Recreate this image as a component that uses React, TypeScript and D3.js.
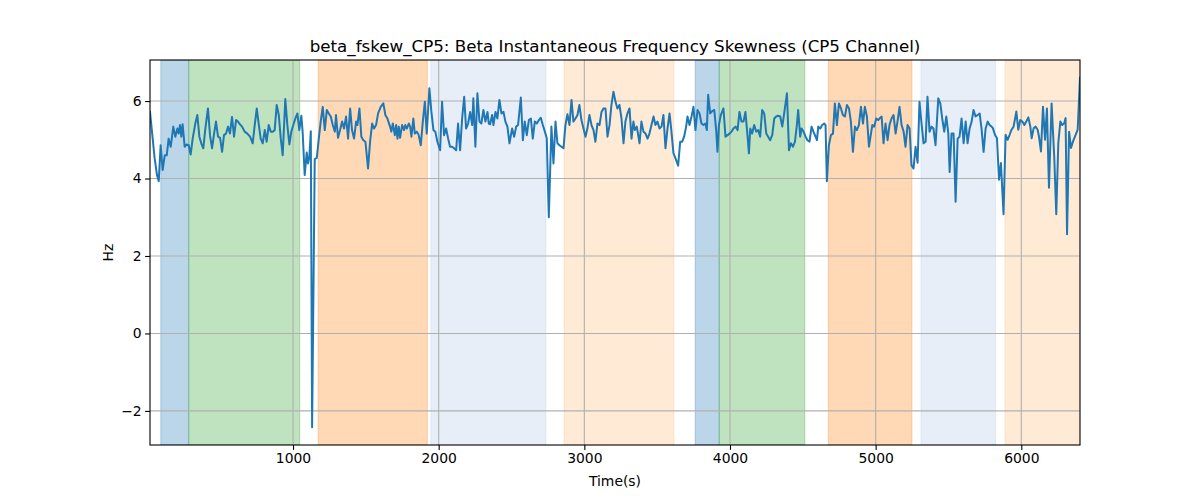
import { useEffect, useRef } from "react";
import * as d3 from "d3";

const WIDTH = 1200;
const HEIGHT = 500;

const chartTitle =
	"beta_fskew_CP5: Beta Instantaneous Frequency Skewness (CP5 Channel)";
const xLabel = "Time(s)";
const yLabel = "Hz";

const xTicks = [1000, 2000, 3000, 4000, 5000, 6000];
const yTicks = [-2, 0, 2, 4, 6];
const yLimits = [-2.88, 7.06];

// shaded periods (seconds) and which stage each one belongs to
const spanStart = [92, 284, 1172, 1946, 2861, 3761, 3926, 4675, 5311, 5888];
const spanEnd = [284, 1046, 1922, 2736, 3615, 3926, 4514, 5249, 5824, 6403];
const spanStage = ["a", "b", "c", "d", "e", "a", "b", "c", "d", "e"];

const stageFill: Record<string, [string, number]> = {
	a: ["#1f77b4", 0.3],
	b: ["#2ca02c", 0.3],
	c: ["#ff7f0e", 0.3],
	d: ["#aec7e8", 0.3],
	e: ["#ffbb78", 0.3],
};

// [time (s), skewness (Hz)]
const fskew: [number, number][] = [
	[18, 5.72], [50, 4.52], [66, 4.09], [78, 3.93], [91, 4.86], [105, 4.22], [119, 4.6], [133, 4.6],
	[146, 5.03], [160, 4.82], [178, 5.34], [192, 5.08], [206, 5.29], [215, 5.16], [224, 5.38], [233, 5.08],
	[242, 5.4], [256, 4.82], [270, 4.88], [284, 4.86], [297, 4.62], [311, 5.03], [329, 5.42], [343, 5.64],
	[357, 5.08], [370, 4.91], [384, 4.78], [398, 5.29], [416, 5.81], [430, 5.12], [444, 4.78], [458, 5.16],
	[471, 5.47], [485, 5.08], [499, 5.05], [513, 4.69], [526, 5.12], [540, 5.16], [554, 5.34], [567, 5.16],
	[581, 5.59], [595, 5.08], [609, 5.51], [622, 5.47], [636, 5.4], [650, 5.34], [668, 5.21], [686, 5.16],
	[705, 5.08], [723, 4.91], [737, 5.38], [751, 5.81], [764, 5.42], [778, 5.03], [792, 4.91], [806, 5.25],
	[819, 4.95], [833, 5.38], [847, 5.21], [861, 5.21], [874, 5.25], [888, 5.9], [902, 5.64], [916, 5.03],
	[929, 4.6], [947, 6.05], [961, 5.38], [975, 4.88], [988, 5.21], [1002, 5.38], [1016, 5.55], [1030, 5.68],
	[1043, 5.25], [1057, 5.62], [1066, 5.2], [1080, 4.09], [1094, 4.67], [1103, 4.39], [1112, 4.56], [1122, 5.22],
	[1131, -2.42], [1149, 4.5], [1163, 4.53], [1177, 5.03], [1190, 5.47], [1204, 5.85], [1218, 5.25], [1232, 5.77],
	[1245, 5.68], [1259, 5.6], [1273, 5.38], [1287, 5.21], [1295, 5.64], [1309, 5.05], [1323, 5.25], [1337, 5.47],
	[1350, 5.29], [1364, 5.6], [1378, 5.03], [1392, 5.81], [1405, 5.25], [1419, 5.03], [1433, 5.47], [1442, 5.38],
	[1456, 5.81], [1469, 5.08], [1483, 4.99], [1497, 4.95], [1515, 4.26], [1529, 4.95], [1543, 5.42], [1556, 5.29],
	[1570, 5.38], [1584, 5.68], [1602, 5.85], [1620, 5.94], [1634, 5.64], [1648, 5.55], [1666, 5.34], [1675, 5.21],
	[1685, 5.42], [1699, 5.12], [1708, 5.38], [1717, 5.03], [1726, 5.34], [1735, 5.05], [1749, 5.38], [1762, 5.25],
	[1771, 5.38], [1781, 5.29], [1795, 5.42], [1804, 5.34], [1813, 5.08], [1826, 5.55], [1836, 5.16], [1850, 5.21],
	[1863, 5.12], [1877, 4.86], [1891, 5.47], [1905, 5.98], [1918, 5.16], [1936, 6.33], [1950, 5.72], [1964, 5.25],
	[1977, 5.21], [1991, 4.95], [2010, 4.73], [2023, 5.98], [2037, 5.12], [2051, 5.29], [2065, 5.03], [2078, 4.82],
	[2092, 4.82], [2106, 4.78], [2120, 4.73], [2133, 5.42], [2147, 4.73], [2161, 5.55], [2175, 6.11], [2188, 5.29],
	[2202, 5.42], [2216, 5.72], [2230, 5.38], [2238, 6.07], [2252, 4.82], [2266, 6.2], [2280, 5.47], [2293, 5.42],
	[2307, 5.77], [2321, 5.47], [2335, 5.72], [2344, 5.42], [2353, 5.4], [2367, 5.64], [2376, 5.38], [2390, 5.72],
	[2403, 5.55], [2417, 6.03], [2431, 5.68], [2445, 5.72], [2458, 5.47], [2472, 5.34], [2486, 4.91], [2504, 5.29],
	[2518, 5.08], [2532, 5.34], [2545, 5.38], [2564, 6.09], [2578, 4.99], [2591, 5.47], [2605, 5.12], [2619, 5.51],
	[2633, 5.55], [2646, 5.03], [2660, 5.47], [2674, 5.42], [2688, 5.51], [2701, 5.57], [2715, 5.38], [2729, 5.21],
	[2742, 5.04], [2756, 3.0], [2774, 5.34], [2788, 4.39], [2802, 5.47], [2815, 4.91], [2829, 4.86], [2843, 4.82],
	[2857, 4.78], [2870, 5.38], [2884, 5.66], [2898, 5.38], [2912, 6.03], [2925, 5.47], [2939, 5.55], [2953, 5.64],
	[2966, 5.9], [2980, 5.51], [2994, 5.29], [3008, 5.08], [3021, 5.29], [3035, 5.64], [3049, 5.38], [3063, 5.25],
	[3076, 4.95], [3090, 5.42], [3104, 5.38], [3118, 5.72], [3131, 5.81], [3145, 5.81], [3159, 5.08], [3173, 5.38],
	[3186, 5.9], [3200, 6.24], [3214, 5.98], [3227, 5.81], [3241, 5.9], [3255, 5.55], [3269, 4.91], [3282, 5.47],
	[3296, 5.68], [3310, 5.81], [3324, 5.03], [3337, 5.47], [3347, 5.25], [3360, 5.34], [3379, 4.91], [3392, 5.47],
	[3406, 5.21], [3420, 5.16], [3434, 5.03], [3447, 5.16], [3461, 5.38], [3475, 5.6], [3488, 5.38], [3502, 5.47],
	[3516, 5.29], [3530, 5.34], [3543, 5.64], [3557, 4.78], [3571, 5.29], [3585, 5.68], [3598, 5.21], [3612, 4.65],
	[3626, 4.52], [3644, 4.33], [3658, 4.95], [3672, 4.95], [3685, 5.08], [3699, 5.34], [3708, 5.6], [3722, 5.38],
	[3736, 5.6], [3749, 5.85], [3763, 5.25], [3777, 5.77], [3791, 5.68], [3804, 5.42], [3818, 5.38], [3832, 5.42],
	[3841, 5.25], [3850, 6.16], [3864, 5.68], [3878, 5.74], [3892, 5.77], [3905, 5.25], [3914, 4.69], [3924, 5.38],
	[3937, 5.64], [3955, 5.81], [3969, 5.08], [3983, 5.12], [3997, 5.16], [4010, 5.21], [4024, 5.29], [4038, 5.34],
	[4052, 5.25], [4065, 5.72], [4079, 5.47], [4093, 5.47], [4106, 5.72], [4120, 5.12], [4130, 4.65], [4139, 5.29],
	[4152, 5.16], [4166, 5.38], [4180, 5.21], [4194, 5.25], [4207, 5.08], [4221, 5.77], [4235, 5.68], [4249, 5.16],
	[4262, 5.08], [4276, 4.99], [4290, 5.12], [4304, 5.55], [4317, 5.6], [4331, 5.62], [4345, 5.6], [4359, 5.34],
	[4372, 5.68], [4391, 6.2], [4405, 4.73], [4418, 4.91], [4432, 4.82], [4446, 4.95], [4459, 5.38], [4468, 5.77],
	[4482, 5.08], [4491, 5.29], [4505, 5.21], [4519, 5.08], [4532, 4.99], [4546, 4.95], [4560, 5.34], [4573, 5.21],
	[4583, 5.12], [4597, 4.99], [4606, 5.34], [4620, 5.29], [4633, 5.38], [4647, 5.42], [4656, 5.38], [4665, 3.93],
	[4679, 4.86], [4693, 5.12], [4707, 5.16], [4720, 5.94], [4734, 5.38], [4748, 5.94], [4762, 5.81], [4775, 5.64],
	[4789, 5.6], [4803, 5.9], [4817, 5.81], [4830, 5.47], [4844, 4.69], [4858, 5.34], [4871, 5.25], [4885, 5.38],
	[4899, 5.85], [4913, 5.42], [4926, 5.85], [4940, 5.6], [4954, 4.82], [4977, 5.38], [4990, 5.34], [5004, 5.55],
	[5018, 5.51], [5032, 5.57], [5041, 5.6], [5054, 4.91], [5068, 5.42], [5082, 4.99], [5095, 5.38], [5109, 5.55],
	[5123, 5.64], [5137, 5.16], [5150, 5.47], [5164, 5.85], [5178, 5.38], [5192, 5.21], [5205, 4.82], [5219, 5.38],
	[5233, 5.29], [5246, 4.34], [5260, 4.26], [5274, 4.82], [5288, 4.41], [5301, 5.98], [5315, 5.42], [5329, 4.91],
	[5343, 4.95], [5356, 6.11], [5370, 5.21], [5384, 5.34], [5397, 5.29], [5411, 4.86], [5430, 6.07], [5444, 5.94],
	[5457, 5.55], [5471, 5.21], [5485, 5.6], [5499, 5.16], [5508, 4.17], [5521, 5.16], [5535, 5.16], [5549, 3.4],
	[5563, 5.03], [5576, 5.08], [5590, 5.55], [5604, 4.91], [5618, 5.47], [5631, 4.91], [5645, 5.29], [5659, 5.47],
	[5672, 5.77], [5686, 5.6], [5700, 5.64], [5714, 5.68], [5727, 5.29], [5741, 4.69], [5755, 5.29], [5769, 5.47],
	[5782, 5.38], [5796, 5.34], [5805, 5.3], [5819, 5.13], [5833, 5.04], [5847, 3.97], [5860, 4.4], [5878, 3.08],
	[5892, 5.13], [5906, 5.0], [5920, 5.13], [5933, 5.26], [5947, 5.34], [5966, 5.73], [5979, 5.26], [5993, 5.51],
	[6007, 5.47], [6021, 5.38], [6034, 5.47], [6048, 5.58], [6062, 5.34], [6071, 5.04], [6085, 5.3], [6098, 5.34],
	[6112, 5.26], [6121, 5.09], [6135, 4.7], [6149, 5.85], [6163, 5.0], [6176, 5.81], [6190, 3.76], [6208, 5.94],
	[6226, 4.57], [6240, 3.08], [6254, 4.91], [6268, 5.47], [6281, 5.38], [6295, 5.43], [6304, 5.56], [6314, 2.56],
	[6328, 5.21], [6341, 4.79], [6355, 4.96], [6369, 5.09], [6387, 5.26], [6403, 6.61],
];

const FONT = "'DejaVu Sans', sans-serif";

export default function App() {
	const svgRef = useRef<SVGSVGElement>(null);

	useEffect(() => {
		if (!svgRef.current) return;
		const svg = d3.select(svgRef.current);
		svg.selectAll("*").remove();

		const margin = { top: 60, right: 120, bottom: 55, left: 150 };
		const width = WIDTH - margin.left - margin.right;
		const height = HEIGHT - margin.top - margin.bottom;

		svg.append("rect").attr("width", WIDTH).attr("height", HEIGHT).attr("fill", "white");

		const g = svg
			.append("g")
			.attr("transform", `translate(${margin.left},${margin.top})`);

		const xScale = d3
			.scaleLinear()
			.domain([fskew[0][0], fskew[fskew.length - 1][0]])
			.range([0, width]);
		const yScale = d3.scaleLinear().domain(yLimits).range([height, 0]);

		const clipId = "plot-clip";
		svg.append("defs")
			.append("clipPath")
			.attr("id", clipId)
			.append("rect")
			.attr("width", width)
			.attr("height", height);

		const plot = g.append("g").attr("clip-path", `url(#${clipId})`);

		// shaded spans
		plot.selectAll("rect.span")
			.data(spanStart.map((s, i) => ({ s, e: spanEnd[i], k: spanStage[i] })))
			.join("rect")
			.attr("class", "span")
			.attr("x", (d) => xScale(d.s))
			.attr("width", (d) => xScale(d.e) - xScale(d.s))
			.attr("y", 0)
			.attr("height", height)
			.attr("fill", (d) => stageFill[d.k][0])
			.attr("fill-opacity", (d) => stageFill[d.k][1])
			.attr("stroke", (d) => stageFill[d.k][0])
			.attr("stroke-opacity", (d) => stageFill[d.k][1])
			.attr("stroke-width", 1);

		// grid
		plot.selectAll("line.gx")
			.data(xTicks)
			.join("line")
			.attr("x1", (d) => xScale(d))
			.attr("x2", (d) => xScale(d))
			.attr("y1", 0)
			.attr("y2", height)
			.attr("stroke", "#b0b0b0")
			.attr("stroke-width", 1.1);
		plot.selectAll("line.gy")
			.data(yTicks)
			.join("line")
			.attr("y1", (d) => yScale(d))
			.attr("y2", (d) => yScale(d))
			.attr("x1", 0)
			.attr("x2", width)
			.attr("stroke", "#b0b0b0")
			.attr("stroke-width", 1.1);

		const line = d3
			.line<[number, number]>()
			.x((d) => xScale(d[0]))
			.y((d) => yScale(d[1]));

		plot.append("path")
			.datum(fskew)
			.attr("fill", "none")
			.attr("stroke", "#1f77b4")
			.attr("stroke-width", 2)
			.attr("stroke-linejoin", "round")
			.attr("stroke-linecap", "square")
			.attr("d", line);

		// axes
		const xAxis = d3
			.axisBottom(xScale)
			.tickValues(xTicks)
			.tickSize(4.9)
			.tickPadding(3.5)
			.tickFormat((d) => String(d));
		g.append("g")
			.attr("transform", `translate(0,${height})`)
			.call(xAxis)
			.call((a) => a.select(".domain").remove())
			.call((a) => a.selectAll(".tick line").attr("stroke", "black").attr("stroke-width", 1.1))
			.call((a) =>
				a.selectAll(".tick text")
					.attr("fill", "black")
					.attr("font-size", "13.9px")
					.attr("font-family", FONT)
			);

		const yAxis = d3
			.axisLeft(yScale)
			.tickValues(yTicks)
			.tickSize(4.9)
			.tickPadding(3.5)
			.tickFormat((d) => ((d as number) < 0 ? `\u2212${Math.abs(d as number)}` : String(d)));
		g.append("g")
			.call(yAxis)
			.call((a) => a.select(".domain").remove())
			.call((a) => a.selectAll(".tick line").attr("stroke", "black").attr("stroke-width", 1.1))
			.call((a) =>
				a.selectAll(".tick text")
					.attr("fill", "black")
					.attr("font-size", "13.9px")
					.attr("font-family", FONT)
			);

		// spines
		g.append("rect")
			.attr("width", width)
			.attr("height", height)
			.attr("fill", "none")
			.attr("stroke", "black")
			.attr("stroke-width", 1.1);

		svg.append("text")
			.attr("x", margin.left + width / 2)
			.attr("y", 52)
			.attr("text-anchor", "middle")
			.attr("font-size", "16.7px")
			.attr("font-family", FONT)
			.attr("fill", "black")
			.text(chartTitle);

		svg.append("text")
			.attr("x", margin.left + width / 2)
			.attr("y", 486)
			.attr("text-anchor", "middle")
			.attr("font-size", "13.9px")
			.attr("font-family", FONT)
			.attr("fill", "black")
			.text(xLabel);

		svg.append("text")
			.attr("transform", `translate(113,${margin.top + height / 2}) rotate(-90)`)
			.attr("text-anchor", "middle")
			.attr("font-size", "13.9px")
			.attr("font-family", FONT)
			.attr("fill", "black")
			.text(yLabel);
	}, []);

	return (
		<svg
			ref={svgRef}
			width={WIDTH}
			height={HEIGHT}
			style={{ position: "absolute", left: 0, top: 0 }}
		/>
	);
}
